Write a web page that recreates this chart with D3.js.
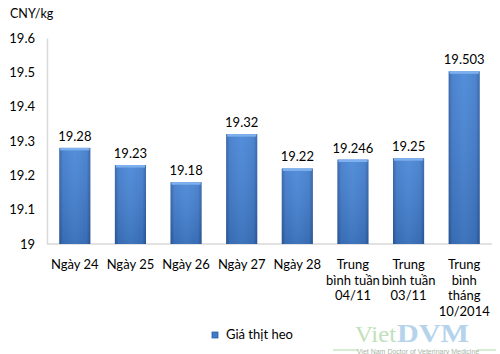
<!DOCTYPE html>
<html>
<head>
<meta charset="utf-8">
<script src="https://cdn.jsdelivr.net/npm/d3@7"></script>
<style>
  body { margin: 0; background: #fff; }
  svg { display: block; font-family: Lato, "Open Sans", sans-serif; }
</style>
</head>
<body>
<svg id="chart" width="500" height="354"></svg>
<script>
// category labels (each entry = lines of the label)
const categories = [
  ["Ngày 24"],
  ["Ngày 25"],
  ["Ngày 26"],
  ["Ngày 27"],
  ["Ngày 28"],
  ["Trung", "bình tuần", "04/11"],
  ["Trung", "bình tuần", "03/11"],
  ["Trung", "bình", "tháng", "10/2014"],
];
const prices = [19.28, 19.23, 19.18, 19.32, 19.22, 19.246, 19.25, 19.503];
const priceLabels = ["19.28", "19.23", "19.18", "19.32", "19.22", "19.246", "19.25", "19.503"];
const yTicks = [19, 19.1, 19.2, 19.3, 19.4, 19.5, 19.6];
const seriesName = "Giá thịt heo";
const unitLabel = "CNY/kg";

const margin = { top: 38, right: 8, bottom: 110, left: 47 };
const width = 500 - margin.left - margin.right;
const height = 354 - margin.top - margin.bottom;

const svg = d3.select("#chart");

// gradients for the bars
const defs = svg.append("defs");
const grad = defs.append("linearGradient").attr("id", "barGrad")
  .attr("x1", 0).attr("x2", 1).attr("y1", 0).attr("y2", 0);
grad.append("stop").attr("offset", "0%").attr("stop-color", "#2d5da3");
grad.append("stop").attr("offset", "12%").attr("stop-color", "#3f7acb");
grad.append("stop").attr("offset", "50%").attr("stop-color", "#4685d6");
grad.append("stop").attr("offset", "88%").attr("stop-color", "#3f7acb");
grad.append("stop").attr("offset", "100%").attr("stop-color", "#2d5da3");

const shade = defs.append("linearGradient").attr("id", "barShade")
  .attr("x1", 0).attr("x2", 0).attr("y1", 0).attr("y2", 1);
shade.append("stop").attr("offset", "0%").attr("stop-color", "#fff").attr("stop-opacity", 0.08);
shade.append("stop").attr("offset", "100%").attr("stop-color", "#000").attr("stop-opacity", 0.12);

const g = svg.append("g").attr("transform", `translate(${margin.left},${margin.top})`);

const x = d3.scaleBand().domain(d3.range(categories.length)).range([0, width])
  .paddingInner(0.44).paddingOuter(0.22);
const y = d3.scaleLinear().domain([19, 19.6]).range([height, 0]);

// y axis (labels only + line)
const yAxis = g.append("g")
  .call(d3.axisLeft(y).tickValues(yTicks).tickSize(0).tickPadding(12)
    .tickFormat((d) => d3.format("")(+d.toFixed(1))));
yAxis.select(".domain").attr("stroke", "#d9d9d9").attr("stroke-width", 1.5);
yAxis.selectAll("text").attr("font-size", 13).attr("fill", "#000")
  .attr("font-family", "Lato, sans-serif");

// x axis line
g.append("line").attr("x1", 0).attr("x2", width)
  .attr("y1", y(19)).attr("y2", y(19))
  .attr("stroke", "#d9d9d9").attr("stroke-width", 1.5);

// bars
const bars = g.selectAll(".bar").data(prices).enter().append("g").attr("class", "bar");
bars.append("rect")
  .attr("x", (d, i) => x(i)).attr("width", x.bandwidth())
  .attr("y", (d) => y(d)).attr("height", (d) => y(19) - y(d))
  .attr("fill", "url(#barGrad)");
bars.append("rect")
  .attr("x", (d, i) => x(i)).attr("width", x.bandwidth())
  .attr("y", (d) => y(d)).attr("height", (d) => y(19) - y(d))
  .attr("fill", "url(#barShade)");
// top cap highlight
bars.append("rect")
  .attr("x", (d, i) => x(i) + 1).attr("width", x.bandwidth() - 2)
  .attr("y", (d) => y(d)).attr("height", 2.5)
  .attr("fill", "#7fb0ee");

// value labels
g.selectAll(".val").data(prices).enter().append("text")
  .attr("x", (d, i) => x(i) + x.bandwidth() / 2)
  .attr("y", (d) => y(d) - 7)
  .attr("text-anchor", "middle").attr("font-size", 13).attr("fill", "#000")
  .text((d, i) => priceLabels[i]);

// category labels
const cat = g.selectAll(".cat").data(categories).enter().append("text")
  .attr("text-anchor", "middle").attr("font-size", 13).attr("fill", "#000")
  .attr("transform", (d, i) => `translate(${x(i) + x.bandwidth() / 2},${y(19) + 25})`);
cat.selectAll("tspan").data((d) => d).enter().append("tspan")
  .attr("x", 0).attr("dy", (d, i) => (i === 0 ? 0 : 15.5)).text((d) => d);

// unit label
svg.append("text").attr("x", 10).attr("y", 18).attr("font-size", 12.5)
  .attr("fill", "#000").text(unitLabel);

// legend
const legend = svg.append("g").attr("transform", "translate(212,332)");
legend.append("rect").attr("width", 6).attr("height", 6)
  .attr("fill", "#3f7acb").attr("stroke", "#2d5da3").attr("stroke-width", 0.8);
legend.append("text").attr("x", 14).attr("y", 7).attr("font-size", 13)
  .attr("fill", "#000").text(seriesName);

// watermark
const wm = svg.append("g").attr("opacity", 0.85);
wm.append("text").attr("x", 355).attr("y", 341.5)
  .attr("font-family", "Liberation Serif, serif").attr("font-size", 23)
  .attr("textLength", 41).attr("lengthAdjust", "spacingAndGlyphs")
  .attr("fill", "#b5dcae").text("Viet");
wm.append("text").attr("x", 397).attr("y", 341.5)
  .attr("font-family", "Liberation Serif, serif").attr("font-size", 25).attr("font-weight", "bold")
  .attr("textLength", 72).attr("lengthAdjust", "spacingAndGlyphs")
  .attr("fill", "#a9cde9").text("DVM");
wm.append("line").attr("x1", 333).attr("x2", 359).attr("y1", 350).attr("y2", 350)
  .attr("stroke", "#9fd69a").attr("stroke-width", 1);
wm.append("line").attr("x1", 477).attr("x2", 496).attr("y1", 350).attr("y2", 350)
  .attr("stroke", "#9fd69a").attr("stroke-width", 1);
wm.append("text").attr("x", 418).attr("y", 353.5).attr("text-anchor", "middle")
  .attr("font-family", "Liberation Sans Narrow, sans-serif").attr("font-size", 7)
  .attr("fill", "#9aaa98").text("Viet Nam Doctor of Veterinary Medicine");
</script>
</body>
</html>
